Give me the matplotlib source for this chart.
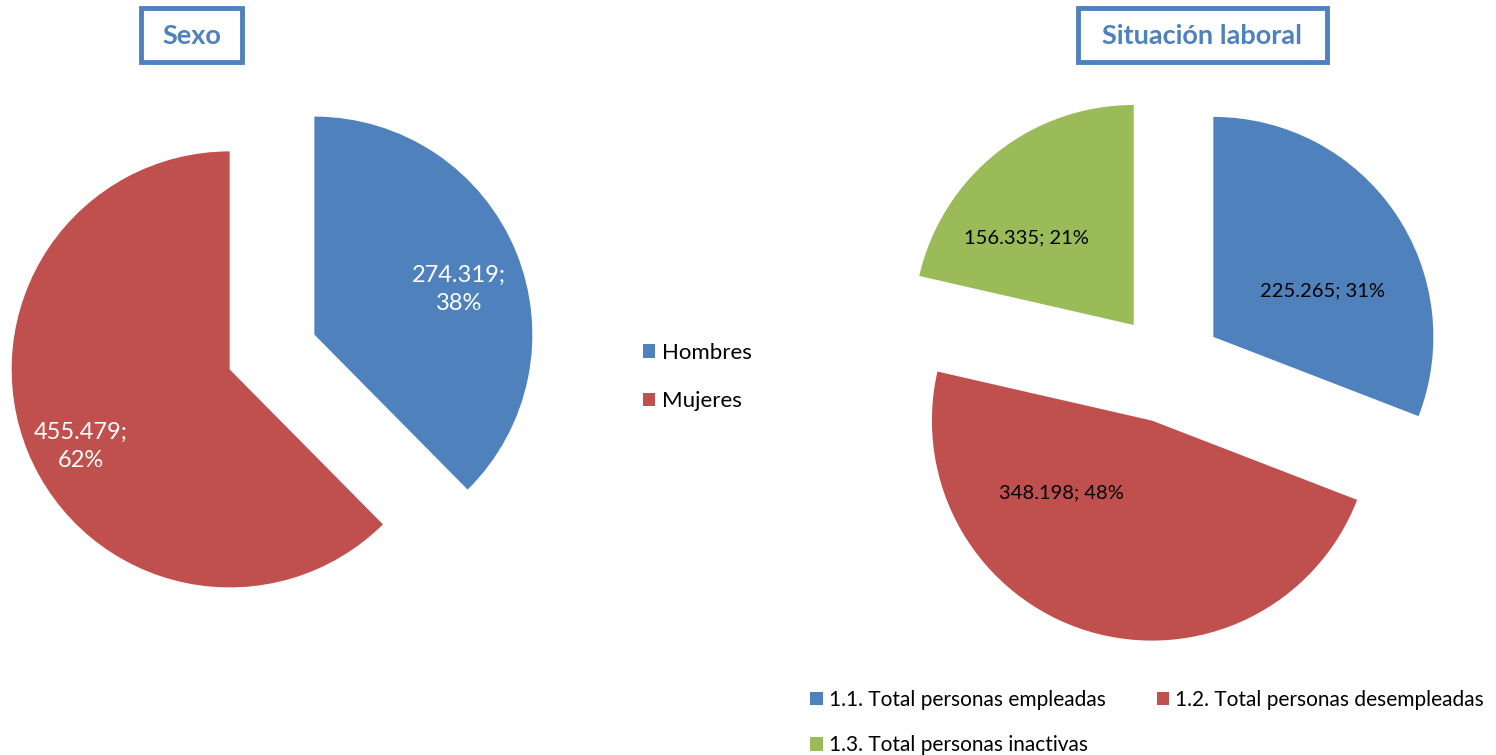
import matplotlib.pyplot as plt
from matplotlib.patches import Patch, Rectangle

plt.rcParams['font.family'] = ['Lato', 'DejaVu Sans']

# data
sexo_labels = ['Hombres', 'Mujeres']
sexo_values = [274319, 455479]
sexo_colors = ['#4F81BD', '#C0504D']

lab_labels = ['1.1. Total personas empleadas', '1.2. Total personas desempleadas',
              '1.3. Total personas inactivas']
lab_values = [225265, 348198, 156335]
lab_colors = ['#4F81BD', '#C0504D', '#9BBB59']

W, H = 1496, 755
fig = plt.figure(figsize=(W / 100, H / 100), dpi=100)
TITLE_BLUE = '#4F81BD'


def fmt_num(v):
    return '{:,}'.format(v).replace(',', '.')


def pie_axes(cx, cy, r, lim=1.45):
    # axes placed by pie center / radius in pixels
    ax = fig.add_axes([(cx - lim * r) / W, (H - cy - lim * r) / H, 2 * lim * r / W, 2 * lim * r / H])
    return ax, lim


def draw_pie(cx, cy, r, values, colors, explode, offsets, txtcolor, sep, fs, ls):
    ax, lim = pie_axes(cx, cy, r)
    wedges, _ = ax.pie(values, colors=colors, startangle=90, counterclock=False,
                       explode=[explode] * len(values))
    ax.set_xlim(-lim, lim)
    ax.set_ylim(-lim, lim)
    ax.axis('off')
    total = sum(values)
    for w, v, (dx, dy) in zip(wedges, values, offsets):
        x0, y0 = w.center
        txt = fmt_num(v) + sep + '%d%%' % round(100 * v / total)
        ax.text(x0 + dx, y0 + dy, txt, ha='center', va='center', color=txtcolor,
                fontsize=fs, linespacing=ls)
    return wedges


w1 = draw_pie(272, 352, 218, sexo_values, sexo_colors, 0.21,
              [(0.665, 0.206), (-0.683, -0.353)], 'white', ';\n', 17, 1.4)
w2 = draw_pie(1168, 368, 220, lab_values, lab_colors, 0.25,
              [(0.495, 0.209), (-0.41, -0.33), (-0.486, 0.395)], 'black', '; ', 14.5, 1.2)

# title boxes
def title_box(x0, x1, text):
    fig.patches.append(Rectangle((x0 / W, 1 - 62 / H), (x1 - x0) / W, 54 / H,
                                 transform=fig.transFigure, fill=False,
                                 edgecolor=TITLE_BLUE, linewidth=3.5))
    fig.text((x0 + x1) / 2 / W, 1 - 36 / H, text, ha='center', va='center',
             fontsize=19.5, fontweight='bold', color=TITLE_BLUE)


title_box(141, 242, 'Sexo')
title_box(1078, 1327, 'Situación laboral')

# legends
h1 = [Patch(facecolor=c) for c in sexo_colors]
fig.legend(h1, sexo_labels, loc='upper left', bbox_to_anchor=(643 / W, 1 - 343 / H),
           frameon=False, fontsize=16, handlelength=0.55, handleheight=0.55,
           handletextpad=0.3, labelspacing=1.27, borderpad=0, borderaxespad=0)

h2 = [Patch(facecolor=c) for c in lab_colors]
order = [0, 2, 1]
fig.legend([h2[i] for i in order], [lab_labels[i] for i in order], ncol=2,
           loc='upper left', bbox_to_anchor=(810 / W, 1 - 690 / H),
           frameon=False, fontsize=15, handlelength=0.6, handleheight=0.6,
           handletextpad=0.3, labelspacing=1.22, columnspacing=2.45,
           borderpad=0, borderaxespad=0)

fig.savefig('out.png', dpi=100)
